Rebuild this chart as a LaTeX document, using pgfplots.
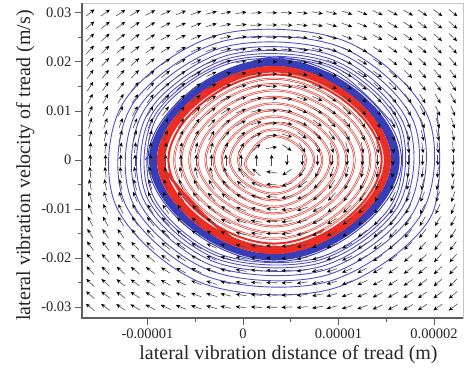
\documentclass[border=0pt]{standalone}
\usepackage{fontspec}
\setmainfont{Liberation Serif}
\usepackage{pgfplots}
\pgfplotsset{compat=1.18}
\usetikzlibrary{arrows.meta}
\definecolor{blueline}{RGB}{80,80,202}
\definecolor{bluedense}{RGB}{55,60,185}
\definecolor{redline}{RGB}{235,45,35}
\definecolor{axisgray}{RGB}{95,95,95}
\pgfplotstableread{
x y
0.122 -0.317
0.033 0
0.325 0.489
0.659 0
0.325 -0.555
-0.052 0
0.325 0.622
0.744 0
0.325 -0.688
-0.137 0
0.325 0.754
0.829 0
0.325 -0.821
-0.222 0
0.325 0.887
0.914 0
0.325 -0.954
-0.307 0
0.325 1.020
0.999 0
0.325 -1.087
-0.392 0
0.325 1.153
1.084 0
0.325 -1.219
-0.477 0
0.325 1.286
1.169 0
0.325 -1.352
-0.562 0
0.325 1.419
1.254 0
0.325 -1.485
-0.647 0
0.325 1.547
1.333 0
0.325 -1.604
-0.720 0
0.325 1.656
1.400 0
0.325 -1.703
-0.781 0
0.325 1.744
1.452 0
0.325 -1.777
-0.823 0
0.325 1.803
1.485 0
0.325 -1.822
-0.847 0
0.325 1.837
1.505 0
0.325 -1.851
-0.863 0
0.325 1.860
1.519 0
0.325 -1.870
-0.874 0
0.325 1.876
1.528 0
0.325 -1.882
-0.882 0
0.325 1.887
1.534 0
0.325 -1.890
-0.886 0
0.325 1.894
1.539 0
0.325 -1.897
-0.890 0
0.325 1.898
1.540 0
0.325 -1.898
-0.890 0
}\innertraj
\begin{document}
\begin{tikzpicture}
\useasboundingbox (-82pt,-59pt) rectangle (383pt,318pt);
\begin{axis}[
  at={(0pt,0pt)}, anchor=south west,
  scale only axis, width=381pt, height=315pt,
  xmin=-1.686, xmax=2.304, ymin=-3.22, ymax=3.20,
  xtick={-1,0,1,2}, xticklabels={-0.00001,0,0.00001,0.00002},
  ytick={-3,-2,-1,0,1,2,3}, yticklabels={-0.03,-0.02,-0.01,0,0.01,0.02,0.03},
  minor x tick num=1, minor y tick num=1,
  tick pos=left, tick align=outside,
  major tick length=7pt, minor tick length=4pt,
  every tick/.style={axisgray, line width=0.8pt},
  axis line style={gray!45, line width=0.8pt},
  ticklabel style={font=\fontsize{14.5}{17}\selectfont, text=black!85},
  xlabel={lateral vibration distance of tread (m)},
  ylabel={lateral vibration velocity of tread (m/s)},
  label style={font=\fontsize{20}{24}\selectfont, text=black!85},
  xlabel style={xshift=16pt},
  ylabel style={xshift=-5pt},
  clip mode=individual,
]
% outer trajectory, outer turns (points every 1/8 turn)
\addplot[blueline, line width=0.9pt, smooth, tension=0.5625] coordinates {
(2.032,0.970) (1.958,-1.189) (0.936,-2.624) (-0.424,-2.511) (-1.329,-0.940) (-1.258,1.153) (-0.268,2.544) (1.052,2.436)
(1.930,0.913) (1.862,-1.120) (0.901,-2.473) (-0.382,-2.368) (-1.236,-0.888) (-1.171,1.090) (-0.236,2.407) (1.014,2.307)
(1.847,0.865) (1.784,-1.063) (0.872,-2.348) (-0.347,-2.252) (-1.161,-0.845) (-1.100,1.038) (-0.210,2.295) (0.982,2.202)
(1.778,0.826) (1.719,-1.016) (0.848,-2.247) (-0.319,-2.156) (-1.099,-0.810) (-1.042,0.996) (-0.188,2.203) (0.956,2.115)
(1.722,0.794) (1.667,-0.977) (0.829,-2.164) (-0.295,-2.078) (-1.048,-0.781) (-0.994,0.961) (-0.171,2.128) (0.935,2.044)
(1.676,0.768) (1.623,-0.946) (0.813,-2.095) (-0.276,-2.013) (-1.006,-0.757) (-0.955,0.932) (-0.156,2.066) (0.918,1.986)
(1.639,0.747) (1.588,-0.920) (0.800,-2.039) (-0.260,-1.961) (-0.972,-0.738) (-0.923,0.909) (-0.144,2.015) (0.903,1.938)
(1.608,0.729) (1.559,-0.899) (0.789,-1.993) (-0.247,-1.917) (-0.944,-0.722) (-0.896,0.890) (-0.135,1.973) (0.892,1.899)
(1.582,0.715)
};
% outer trajectory, final turns crowding onto the limit cycle
\addplot[bluedense, line width=0.9pt, smooth, tension=0.83] coordinates {
(-1.024,0) (0.325,2.096) (1.660,0) (0.325,-2.075)
(-0.997,0) (0.325,2.057) (1.636,0) (0.325,-2.040)
(-0.979,0) (0.325,2.033) (1.624,0) (0.325,-2.026)
(-0.970,0) (0.325,2.019) (1.616,0) (0.325,-2.013)
(-0.962,0) (0.325,2.007) (1.608,0) (0.325,-2.001)
(-0.955,0) (0.325,1.996) (1.601,0) (0.325,-1.991)
(-0.948,0) (0.325,1.986) (1.595,0) (0.325,-1.982)
(-0.942,0) (0.325,1.978) (1.590,0) (0.325,-1.973)
(-0.937,0) (0.325,1.970) (1.585,0) (0.325,-1.966)
(-0.932,0) (0.325,1.960) (1.578,0) (0.325,-1.954)
(-0.924,0) (0.325,1.948) (1.570,0) (0.325,-1.943)
(-0.917,0) (0.325,1.938) (1.564,0) (0.325,-1.934)
(-0.912,0) (0.325,1.930) (1.559,0) (0.325,-1.927)
(-0.907,0) (0.325,1.924) (1.556,0) (0.325,-1.921)
(-0.904,0)
};
% inner trajectory (spirals out to the limit cycle): red trace with a white core on its open turns
\addplot[redline, line width=2pt, smooth, tension=0.83] table {\innertraj};
\addplot[white, line width=0.75pt, smooth, tension=0.83, dash pattern=on 3600pt off 12000pt] table {\innertraj};
% direction field
\addplot[draw=black!70, line width=0.6pt, -{Stealth[length=4.4pt,width=3.7pt,color=black]},
  shorten <=-5.5pt, shorten >=5.5pt,
  quiver={u={\thisrow{u}*0.1152/sqrt(\thisrow{u}*\thisrow{u}+\thisrow{v}*\thisrow{v})},
          v={\thisrow{v}*0.2245/sqrt(\thisrow{u}*\thisrow{u}+\thisrow{v}*\thisrow{v})}}]
table {
x y u v
-1.6 3 2.4 1.93
-1.44 3 2.4 1.77
-1.28 3 2.4 1.61
-1.13 3 2.4 1.45
-0.97 3 2.4 1.29
-0.81 3 2.4 1.13
-0.65 3 2.4 0.98
-0.49 3 2.4 0.82
-0.33 3 2.4 0.66
-0.18 3 2.4 0.5
-0.02 3 2.4 0.34
0.14 3 2.4 0.18
0.3 3 2.4 0.03
0.46 3 2.4 -0.13
0.62 3 2.4 -0.29
0.78 3 2.4 -0.45
0.93 3 2.4 -0.61
1.09 3 2.4 -0.77
1.25 3 2.4 -0.93
1.41 3 2.4 -1.08
1.57 3 2.4 -1.24
1.73 3 2.4 -1.4
1.88 3 2.4 -1.56
2.04 3 2.4 -1.72
2.2 3 2.4 -1.88
-1.6 2.75 2.2 1.93
-1.44 2.75 2.2 1.77
-1.28 2.75 2.2 1.61
-1.13 2.75 2.2 1.45
-0.97 2.75 2.2 1.29
-0.81 2.75 2.2 1.13
-0.65 2.75 2.2 0.98
-0.49 2.75 2.2 0.82
-0.33 2.75 2.2 0.66
-0.18 2.75 2.2 0.5
-0.02 2.75 2.2 0.34
0.14 2.75 2.2 0.18
0.3 2.75 2.2 0.03
0.46 2.75 2.2 -0.13
0.62 2.75 2.2 -0.29
0.78 2.75 2.2 -0.45
0.93 2.75 2.2 -0.61
1.09 2.75 2.2 -0.77
1.25 2.75 2.2 -0.93
1.41 2.75 2.2 -1.08
1.57 2.75 2.2 -1.24
1.73 2.75 2.2 -1.4
1.88 2.75 2.2 -1.56
2.04 2.75 2.2 -1.72
2.2 2.75 2.2 -1.88
-1.6 2.5 2 1.93
-1.44 2.5 2 1.77
-1.28 2.5 2 1.61
-1.13 2.5 2 1.45
-0.97 2.5 2 1.29
-0.81 2.5 2 1.13
-0.65 2.5 2 0.98
-0.49 2.5 2 0.82
-0.33 2.5 2 0.66
-0.18 2.5 2 0.5
-0.02 2.5 2 0.34
0.14 2.5 2 0.18
0.3 2.5 2 0.03
0.46 2.5 2 -0.13
0.62 2.5 2 -0.29
0.78 2.5 2 -0.45
0.93 2.5 2 -0.61
1.09 2.5 2 -0.77
1.25 2.5 2 -0.93
1.41 2.5 2 -1.08
1.57 2.5 2 -1.24
1.73 2.5 2 -1.4
1.88 2.5 2 -1.56
2.04 2.5 2 -1.72
2.2 2.5 2 -1.88
-1.6 2.25 1.8 1.93
-1.44 2.25 1.8 1.77
-1.28 2.25 1.8 1.61
-1.13 2.25 1.8 1.45
-0.97 2.25 1.8 1.29
-0.81 2.25 1.8 1.13
-0.65 2.25 1.8 0.98
-0.49 2.25 1.8 0.82
-0.33 2.25 1.8 0.66
-0.18 2.25 1.8 0.5
-0.02 2.25 1.8 0.34
0.14 2.25 1.8 0.18
0.3 2.25 1.8 0.03
0.46 2.25 1.8 -0.13
0.62 2.25 1.8 -0.29
0.78 2.25 1.8 -0.45
0.93 2.25 1.8 -0.61
1.09 2.25 1.8 -0.77
1.25 2.25 1.8 -0.93
1.41 2.25 1.8 -1.08
1.57 2.25 1.8 -1.24
1.73 2.25 1.8 -1.4
1.88 2.25 1.8 -1.56
2.04 2.25 1.8 -1.72
2.2 2.25 1.8 -1.88
-1.6 2 1.6 1.93
-1.44 2 1.6 1.77
-1.28 2 1.6 1.61
-1.13 2 1.6 1.45
-0.97 2 1.6 1.29
-0.81 2 1.6 1.13
-0.65 2 1.6 0.98
-0.49 2 1.6 0.82
-0.33 2 1.6 0.66
-0.18 2 1.6 0.5
-0.02 2 1.6 0.34
0.14 2 1.6 0.18
0.3 2 1.6 0.03
0.46 2 1.6 -0.13
0.62 2 1.6 -0.29
0.78 2 1.6 -0.45
0.93 2 1.6 -0.61
1.09 2 1.6 -0.77
1.25 2 1.6 -0.93
1.41 2 1.6 -1.08
1.57 2 1.6 -1.24
1.73 2 1.6 -1.4
1.88 2 1.6 -1.56
2.04 2 1.6 -1.72
2.2 2 1.6 -1.88
-1.6 1.75 1.4 1.93
-1.44 1.75 1.4 1.77
-1.28 1.75 1.4 1.61
-1.13 1.75 1.4 1.45
-0.97 1.75 1.4 1.29
-0.81 1.75 1.4 1.13
-0.65 1.75 1.4 0.98
-0.49 1.75 1.4 0.82
-0.33 1.75 1.4 0.66
-0.18 1.75 1.4 0.5
-0.02 1.75 1.4 0.34
0.14 1.75 1.4 0.18
0.3 1.75 1.4 0.03
0.46 1.75 1.4 -0.13
0.62 1.75 1.4 -0.29
0.78 1.75 1.4 -0.45
0.93 1.75 1.4 -0.61
1.09 1.75 1.4 -0.77
1.25 1.75 1.4 -0.93
1.41 1.75 1.4 -1.08
1.57 1.75 1.4 -1.24
1.73 1.75 1.4 -1.4
1.88 1.75 1.4 -1.56
2.04 1.75 1.4 -1.72
2.2 1.75 1.4 -1.88
-1.6 1.5 1.2 1.93
-1.44 1.5 1.2 1.77
-1.28 1.5 1.2 1.61
-1.13 1.5 1.2 1.45
-0.97 1.5 1.2 1.29
-0.81 1.5 1.2 1.13
-0.65 1.5 1.2 0.98
-0.49 1.5 1.2 0.82
-0.33 1.5 1.2 0.66
-0.18 1.5 1.2 0.5
-0.02 1.5 1.2 0.34
0.14 1.5 1.2 0.18
0.3 1.5 1.2 0.03
0.46 1.5 1.2 -0.13
0.62 1.5 1.2 -0.29
0.78 1.5 1.2 -0.45
0.93 1.5 1.2 -0.61
1.09 1.5 1.2 -0.77
1.25 1.5 1.2 -0.93
1.41 1.5 1.2 -1.08
1.57 1.5 1.2 -1.24
1.73 1.5 1.2 -1.4
1.88 1.5 1.2 -1.56
2.04 1.5 1.2 -1.72
2.2 1.5 1.2 -1.88
-1.6 1.25 1 1.93
-1.44 1.25 1 1.77
-1.28 1.25 1 1.61
-1.13 1.25 1 1.45
-0.97 1.25 1 1.29
-0.81 1.25 1 1.13
-0.65 1.25 1 0.98
-0.49 1.25 1 0.82
-0.33 1.25 1 0.66
-0.18 1.25 1 0.5
-0.02 1.25 1 0.34
0.14 1.25 1 0.18
0.3 1.25 1 0.03
0.46 1.25 1 -0.13
0.62 1.25 1 -0.29
0.78 1.25 1 -0.45
0.93 1.25 1 -0.61
1.09 1.25 1 -0.77
1.25 1.25 1 -0.93
1.41 1.25 1 -1.08
1.57 1.25 1 -1.24
1.73 1.25 1 -1.4
1.88 1.25 1 -1.56
2.04 1.25 1 -1.72
2.2 1.25 1 -1.88
-1.6 1 0.8 1.93
-1.44 1 0.8 1.77
-1.28 1 0.8 1.61
-1.13 1 0.8 1.45
-0.97 1 0.8 1.29
-0.81 1 0.8 1.13
-0.65 1 0.8 0.98
-0.49 1 0.8 0.82
-0.33 1 0.8 0.66
-0.18 1 0.8 0.5
-0.02 1 0.8 0.34
0.14 1 0.8 0.18
0.3 1 0.8 0.03
0.46 1 0.8 -0.13
0.62 1 0.8 -0.29
0.78 1 0.8 -0.45
0.93 1 0.8 -0.61
1.09 1 0.8 -0.77
1.25 1 0.8 -0.93
1.41 1 0.8 -1.08
1.57 1 0.8 -1.24
1.73 1 0.8 -1.4
1.88 1 0.8 -1.56
2.04 1 0.8 -1.72
2.2 1 0.8 -1.88
-1.6 0.75 0.6 1.93
-1.44 0.75 0.6 1.77
-1.28 0.75 0.6 1.61
-1.13 0.75 0.6 1.45
-0.97 0.75 0.6 1.29
-0.81 0.75 0.6 1.13
-0.65 0.75 0.6 0.98
-0.49 0.75 0.6 0.82
-0.33 0.75 0.6 0.66
-0.18 0.75 0.6 0.5
-0.02 0.75 0.6 0.34
0.14 0.75 0.6 0.18
0.3 0.75 0.6 0.03
0.46 0.75 0.6 -0.13
0.62 0.75 0.6 -0.29
0.78 0.75 0.6 -0.45
0.93 0.75 0.6 -0.61
1.09 0.75 0.6 -0.77
1.25 0.75 0.6 -0.93
1.41 0.75 0.6 -1.08
1.57 0.75 0.6 -1.24
1.73 0.75 0.6 -1.4
1.88 0.75 0.6 -1.56
2.04 0.75 0.6 -1.72
2.2 0.75 0.6 -1.88
-1.6 0.5 0.4 1.93
-1.44 0.5 0.4 1.77
-1.28 0.5 0.4 1.61
-1.13 0.5 0.4 1.45
-0.97 0.5 0.4 1.29
-0.81 0.5 0.4 1.13
-0.65 0.5 0.4 0.98
-0.49 0.5 0.4 0.82
-0.33 0.5 0.4 0.66
-0.18 0.5 0.4 0.5
-0.02 0.5 0.4 0.34
0.14 0.5 0.4 0.18
0.3 0.5 0.4 0.03
0.46 0.5 0.4 -0.13
0.62 0.5 0.4 -0.29
0.78 0.5 0.4 -0.45
0.93 0.5 0.4 -0.61
1.09 0.5 0.4 -0.77
1.25 0.5 0.4 -0.93
1.41 0.5 0.4 -1.08
1.57 0.5 0.4 -1.24
1.73 0.5 0.4 -1.4
1.88 0.5 0.4 -1.56
2.04 0.5 0.4 -1.72
2.2 0.5 0.4 -1.88
-1.6 0.25 0.2 1.93
-1.44 0.25 0.2 1.77
-1.28 0.25 0.2 1.61
-1.13 0.25 0.2 1.45
-0.97 0.25 0.2 1.29
-0.81 0.25 0.2 1.13
-0.65 0.25 0.2 0.98
-0.49 0.25 0.2 0.82
-0.33 0.25 0.2 0.66
-0.18 0.25 0.2 0.5
-0.02 0.25 0.2 0.34
0.14 0.25 0.2 0.18
0.3 0.25 0.2 0.03
0.46 0.25 0.2 -0.13
0.62 0.25 0.2 -0.29
0.78 0.25 0.2 -0.45
0.93 0.25 0.2 -0.61
1.09 0.25 0.2 -0.77
1.25 0.25 0.2 -0.93
1.41 0.25 0.2 -1.08
1.57 0.25 0.2 -1.24
1.73 0.25 0.2 -1.4
1.88 0.25 0.2 -1.56
2.04 0.25 0.2 -1.72
2.2 0.25 0.2 -1.88
-1.6 0 0 1.93
-1.44 0 0 1.77
-1.28 0 0 1.61
-1.13 0 0 1.45
-0.97 0 0 1.29
-0.81 0 0 1.13
-0.65 0 0 0.98
-0.49 0 0 0.82
-0.33 0 0 0.66
-0.18 0 0 0.5
-0.02 0 0 0.34
0.14 0 0 0.18
0.3 0 0 0.03
0.46 0 0 -0.13
0.62 0 0 -0.29
0.78 0 0 -0.45
0.93 0 0 -0.61
1.09 0 0 -0.77
1.25 0 0 -0.93
1.41 0 0 -1.08
1.57 0 0 -1.24
1.73 0 0 -1.4
1.88 0 0 -1.56
2.04 0 0 -1.72
2.2 0 0 -1.88
-1.6 -0.25 -0.2 1.93
-1.44 -0.25 -0.2 1.77
-1.28 -0.25 -0.2 1.61
-1.13 -0.25 -0.2 1.45
-0.97 -0.25 -0.2 1.29
-0.81 -0.25 -0.2 1.13
-0.65 -0.25 -0.2 0.98
-0.49 -0.25 -0.2 0.82
-0.33 -0.25 -0.2 0.66
-0.18 -0.25 -0.2 0.5
-0.02 -0.25 -0.2 0.34
0.14 -0.25 -0.2 0.18
0.3 -0.25 -0.2 0.03
0.46 -0.25 -0.2 -0.13
0.62 -0.25 -0.2 -0.29
0.78 -0.25 -0.2 -0.45
0.93 -0.25 -0.2 -0.61
1.09 -0.25 -0.2 -0.77
1.25 -0.25 -0.2 -0.93
1.41 -0.25 -0.2 -1.08
1.57 -0.25 -0.2 -1.24
1.73 -0.25 -0.2 -1.4
1.88 -0.25 -0.2 -1.56
2.04 -0.25 -0.2 -1.72
2.2 -0.25 -0.2 -1.88
-1.6 -0.5 -0.4 1.93
-1.44 -0.5 -0.4 1.77
-1.28 -0.5 -0.4 1.61
-1.13 -0.5 -0.4 1.45
-0.97 -0.5 -0.4 1.29
-0.81 -0.5 -0.4 1.13
-0.65 -0.5 -0.4 0.98
-0.49 -0.5 -0.4 0.82
-0.33 -0.5 -0.4 0.66
-0.18 -0.5 -0.4 0.5
-0.02 -0.5 -0.4 0.34
0.14 -0.5 -0.4 0.18
0.3 -0.5 -0.4 0.03
0.46 -0.5 -0.4 -0.13
0.62 -0.5 -0.4 -0.29
0.78 -0.5 -0.4 -0.45
0.93 -0.5 -0.4 -0.61
1.09 -0.5 -0.4 -0.77
1.25 -0.5 -0.4 -0.93
1.41 -0.5 -0.4 -1.08
1.57 -0.5 -0.4 -1.24
1.73 -0.5 -0.4 -1.4
1.88 -0.5 -0.4 -1.56
2.04 -0.5 -0.4 -1.72
2.2 -0.5 -0.4 -1.88
-1.6 -0.75 -0.6 1.93
-1.44 -0.75 -0.6 1.77
-1.28 -0.75 -0.6 1.61
-1.13 -0.75 -0.6 1.45
-0.97 -0.75 -0.6 1.29
-0.81 -0.75 -0.6 1.13
-0.65 -0.75 -0.6 0.98
-0.49 -0.75 -0.6 0.82
-0.33 -0.75 -0.6 0.66
-0.18 -0.75 -0.6 0.5
-0.02 -0.75 -0.6 0.34
0.14 -0.75 -0.6 0.18
0.3 -0.75 -0.6 0.03
0.46 -0.75 -0.6 -0.13
0.62 -0.75 -0.6 -0.29
0.78 -0.75 -0.6 -0.45
0.93 -0.75 -0.6 -0.61
1.09 -0.75 -0.6 -0.77
1.25 -0.75 -0.6 -0.93
1.41 -0.75 -0.6 -1.08
1.57 -0.75 -0.6 -1.24
1.73 -0.75 -0.6 -1.4
1.88 -0.75 -0.6 -1.56
2.04 -0.75 -0.6 -1.72
2.2 -0.75 -0.6 -1.88
-1.6 -1 -0.8 1.93
-1.44 -1 -0.8 1.77
-1.28 -1 -0.8 1.61
-1.13 -1 -0.8 1.45
-0.97 -1 -0.8 1.29
-0.81 -1 -0.8 1.13
-0.65 -1 -0.8 0.98
-0.49 -1 -0.8 0.82
-0.33 -1 -0.8 0.66
-0.18 -1 -0.8 0.5
-0.02 -1 -0.8 0.34
0.14 -1 -0.8 0.18
0.3 -1 -0.8 0.03
0.46 -1 -0.8 -0.13
0.62 -1 -0.8 -0.29
0.78 -1 -0.8 -0.45
0.93 -1 -0.8 -0.61
1.09 -1 -0.8 -0.77
1.25 -1 -0.8 -0.93
1.41 -1 -0.8 -1.08
1.57 -1 -0.8 -1.24
1.73 -1 -0.8 -1.4
1.88 -1 -0.8 -1.56
2.04 -1 -0.8 -1.72
2.2 -1 -0.8 -1.88
-1.6 -1.25 -1 1.93
-1.44 -1.25 -1 1.77
-1.28 -1.25 -1 1.61
-1.13 -1.25 -1 1.45
-0.97 -1.25 -1 1.29
-0.81 -1.25 -1 1.13
-0.65 -1.25 -1 0.98
-0.49 -1.25 -1 0.82
-0.33 -1.25 -1 0.66
-0.18 -1.25 -1 0.5
-0.02 -1.25 -1 0.34
0.14 -1.25 -1 0.18
0.3 -1.25 -1 0.03
0.46 -1.25 -1 -0.13
0.62 -1.25 -1 -0.29
0.78 -1.25 -1 -0.45
0.93 -1.25 -1 -0.61
1.09 -1.25 -1 -0.77
1.25 -1.25 -1 -0.93
1.41 -1.25 -1 -1.08
1.57 -1.25 -1 -1.24
1.73 -1.25 -1 -1.4
1.88 -1.25 -1 -1.56
2.04 -1.25 -1 -1.72
2.2 -1.25 -1 -1.88
-1.6 -1.5 -1.2 1.93
-1.44 -1.5 -1.2 1.77
-1.28 -1.5 -1.2 1.61
-1.13 -1.5 -1.2 1.45
-0.97 -1.5 -1.2 1.29
-0.81 -1.5 -1.2 1.13
-0.65 -1.5 -1.2 0.98
-0.49 -1.5 -1.2 0.82
-0.33 -1.5 -1.2 0.66
-0.18 -1.5 -1.2 0.5
-0.02 -1.5 -1.2 0.34
0.14 -1.5 -1.2 0.18
0.3 -1.5 -1.2 0.03
0.46 -1.5 -1.2 -0.13
0.62 -1.5 -1.2 -0.29
0.78 -1.5 -1.2 -0.45
0.93 -1.5 -1.2 -0.61
1.09 -1.5 -1.2 -0.77
1.25 -1.5 -1.2 -0.93
1.41 -1.5 -1.2 -1.08
1.57 -1.5 -1.2 -1.24
1.73 -1.5 -1.2 -1.4
1.88 -1.5 -1.2 -1.56
2.04 -1.5 -1.2 -1.72
2.2 -1.5 -1.2 -1.88
-1.6 -1.75 -1.4 1.93
-1.44 -1.75 -1.4 1.77
-1.28 -1.75 -1.4 1.61
-1.13 -1.75 -1.4 1.45
-0.97 -1.75 -1.4 1.29
-0.81 -1.75 -1.4 1.13
-0.65 -1.75 -1.4 0.98
-0.49 -1.75 -1.4 0.82
-0.33 -1.75 -1.4 0.66
-0.18 -1.75 -1.4 0.5
-0.02 -1.75 -1.4 0.34
0.14 -1.75 -1.4 0.18
0.3 -1.75 -1.4 0.03
0.46 -1.75 -1.4 -0.13
0.62 -1.75 -1.4 -0.29
0.78 -1.75 -1.4 -0.45
0.93 -1.75 -1.4 -0.61
1.09 -1.75 -1.4 -0.77
1.25 -1.75 -1.4 -0.93
1.41 -1.75 -1.4 -1.08
1.57 -1.75 -1.4 -1.24
1.73 -1.75 -1.4 -1.4
1.88 -1.75 -1.4 -1.56
2.04 -1.75 -1.4 -1.72
2.2 -1.75 -1.4 -1.88
-1.6 -2 -1.6 1.93
-1.44 -2 -1.6 1.77
-1.28 -2 -1.6 1.61
-1.13 -2 -1.6 1.45
-0.97 -2 -1.6 1.29
-0.81 -2 -1.6 1.13
-0.65 -2 -1.6 0.98
-0.49 -2 -1.6 0.82
-0.33 -2 -1.6 0.66
-0.18 -2 -1.6 0.5
-0.02 -2 -1.6 0.34
0.14 -2 -1.6 0.18
0.3 -2 -1.6 0.03
0.46 -2 -1.6 -0.13
0.62 -2 -1.6 -0.29
0.78 -2 -1.6 -0.45
0.93 -2 -1.6 -0.61
1.09 -2 -1.6 -0.77
1.25 -2 -1.6 -0.93
1.41 -2 -1.6 -1.08
1.57 -2 -1.6 -1.24
1.73 -2 -1.6 -1.4
1.88 -2 -1.6 -1.56
2.04 -2 -1.6 -1.72
2.2 -2 -1.6 -1.88
-1.6 -2.25 -1.8 1.93
-1.44 -2.25 -1.8 1.77
-1.28 -2.25 -1.8 1.61
-1.13 -2.25 -1.8 1.45
-0.97 -2.25 -1.8 1.29
-0.81 -2.25 -1.8 1.13
-0.65 -2.25 -1.8 0.98
-0.49 -2.25 -1.8 0.82
-0.33 -2.25 -1.8 0.66
-0.18 -2.25 -1.8 0.5
-0.02 -2.25 -1.8 0.34
0.14 -2.25 -1.8 0.18
0.3 -2.25 -1.8 0.03
0.46 -2.25 -1.8 -0.13
0.62 -2.25 -1.8 -0.29
0.78 -2.25 -1.8 -0.45
0.93 -2.25 -1.8 -0.61
1.09 -2.25 -1.8 -0.77
1.25 -2.25 -1.8 -0.93
1.41 -2.25 -1.8 -1.08
1.57 -2.25 -1.8 -1.24
1.73 -2.25 -1.8 -1.4
1.88 -2.25 -1.8 -1.56
2.04 -2.25 -1.8 -1.72
2.2 -2.25 -1.8 -1.88
-1.6 -2.5 -2 1.93
-1.44 -2.5 -2 1.77
-1.28 -2.5 -2 1.61
-1.13 -2.5 -2 1.45
-0.97 -2.5 -2 1.29
-0.81 -2.5 -2 1.13
-0.65 -2.5 -2 0.98
-0.49 -2.5 -2 0.82
-0.33 -2.5 -2 0.66
-0.18 -2.5 -2 0.5
-0.02 -2.5 -2 0.34
0.14 -2.5 -2 0.18
0.3 -2.5 -2 0.03
0.46 -2.5 -2 -0.13
0.62 -2.5 -2 -0.29
0.78 -2.5 -2 -0.45
0.93 -2.5 -2 -0.61
1.09 -2.5 -2 -0.77
1.25 -2.5 -2 -0.93
1.41 -2.5 -2 -1.08
1.57 -2.5 -2 -1.24
1.73 -2.5 -2 -1.4
1.88 -2.5 -2 -1.56
2.04 -2.5 -2 -1.72
2.2 -2.5 -2 -1.88
-1.6 -2.75 -2.2 1.93
-1.44 -2.75 -2.2 1.77
-1.28 -2.75 -2.2 1.61
-1.13 -2.75 -2.2 1.45
-0.97 -2.75 -2.2 1.29
-0.81 -2.75 -2.2 1.13
-0.65 -2.75 -2.2 0.98
-0.49 -2.75 -2.2 0.82
-0.33 -2.75 -2.2 0.66
-0.18 -2.75 -2.2 0.5
-0.02 -2.75 -2.2 0.34
0.14 -2.75 -2.2 0.18
0.3 -2.75 -2.2 0.03
0.46 -2.75 -2.2 -0.13
0.62 -2.75 -2.2 -0.29
0.78 -2.75 -2.2 -0.45
0.93 -2.75 -2.2 -0.61
1.09 -2.75 -2.2 -0.77
1.25 -2.75 -2.2 -0.93
1.41 -2.75 -2.2 -1.08
1.57 -2.75 -2.2 -1.24
1.73 -2.75 -2.2 -1.4
1.88 -2.75 -2.2 -1.56
2.04 -2.75 -2.2 -1.72
2.2 -2.75 -2.2 -1.88
-1.6 -3 -2.4 1.93
-1.44 -3 -2.4 1.77
-1.28 -3 -2.4 1.61
-1.13 -3 -2.4 1.45
-0.97 -3 -2.4 1.29
-0.81 -3 -2.4 1.13
-0.65 -3 -2.4 0.98
-0.49 -3 -2.4 0.82
-0.33 -3 -2.4 0.66
-0.18 -3 -2.4 0.5
-0.02 -3 -2.4 0.34
0.14 -3 -2.4 0.18
0.3 -3 -2.4 0.03
0.46 -3 -2.4 -0.13
0.62 -3 -2.4 -0.29
0.78 -3 -2.4 -0.45
0.93 -3 -2.4 -0.61
1.09 -3 -2.4 -0.77
1.25 -3 -2.4 -0.93
1.41 -3 -2.4 -1.08
1.57 -3 -2.4 -1.24
1.73 -3 -2.4 -1.4
1.88 -3 -2.4 -1.56
2.04 -3 -2.4 -1.72
2.2 -3 -2.4 -1.88
};
\draw[axisgray, line width=1.4pt] (rel axis cs:0,1) -- (rel axis cs:0,0) -- (rel axis cs:1,0);
\end{axis}
\end{tikzpicture}
\end{document}
